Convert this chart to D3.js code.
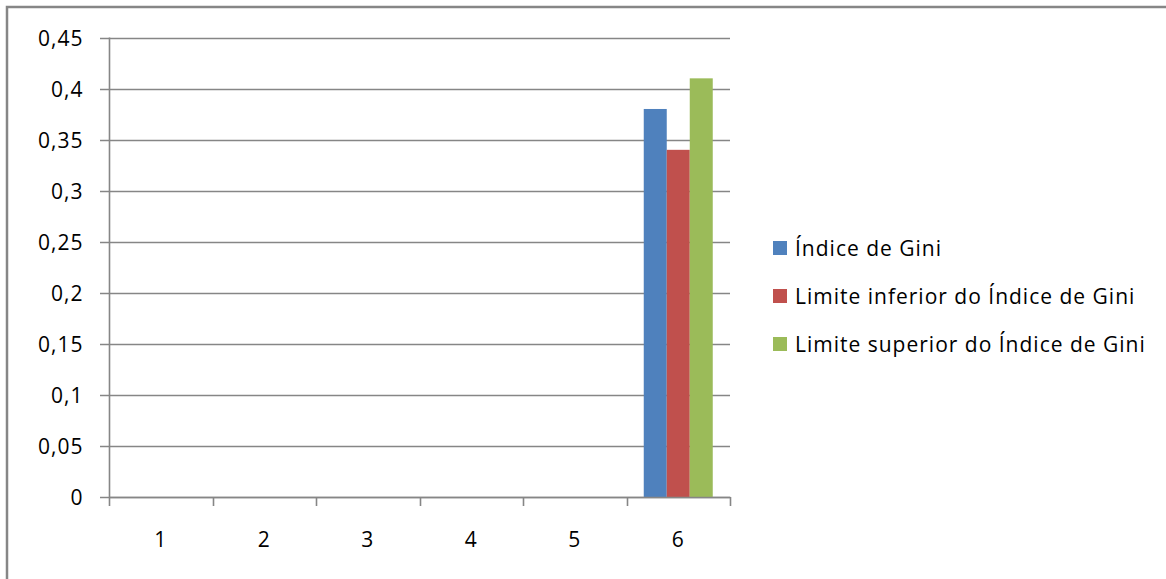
<!DOCTYPE html>
<html>
<head>
<meta charset="utf-8">
<script src="https://cdn.jsdelivr.net/npm/d3@7"></script>
<style>
  html, body { margin: 0; padding: 0; background: #fff; }
  svg { display: block; }
  text { font-family: "Open Sans", "DejaVu Sans", sans-serif; fill: #000; letter-spacing: 1px; }
</style>
</head>
<body>
<svg id="chart" width="1166" height="579"></svg>
<script>
// Category labels along the x axis
const categories = ["1", "2", "3", "4", "5", "6"];
// Series names (legend)
const seriesNames = [
  "Índice de Gini",
  "Limite inferior do Índice de Gini",
  "Limite superior do Índice de Gini"
];
// Values per category for each series (null = no value)
const giniIndex = [null, null, null, null, null, 0.38];
const giniLower = [null, null, null, null, null, 0.34];
const giniUpper = [null, null, null, null, null, 0.41];
// Y axis tick values and labels
const yTicks = [0, 0.05, 0.1, 0.15, 0.2, 0.25, 0.3, 0.35, 0.4, 0.45];
const yTickLabels = ["0", "0,05", "0,1", "0,15", "0,2", "0,25", "0,3", "0,35", "0,4", "0,45"];
const seriesColors = ["#4f81bd", "#c0504d", "#9bbb59"];

const seriesValues = [giniIndex, giniLower, giniUpper];

const svg = d3.select("#chart");
const gridColor = "#868686";
const fontSize = 21;

// Outer chart frame
svg.append("rect")
  .attr("x", 7).attr("y", 7)
  .attr("width", 1166).attr("height", 600)
  .attr("fill", "none")
  .attr("stroke", gridColor)
  .attr("stroke-width", 2.5);

const plot = { left: 109, right: 730, top: 37.5, bottom: 497 };

const y = d3.scaleLinear().domain([0, 0.45]).range([plot.bottom, plot.top]);
const x0 = d3.scaleBand().domain(categories).range([plot.left, plot.right]).paddingInner(0).paddingOuter(0);
// Excel style gap: 150% of bar width split on both sides of the cluster
const x1 = d3.scaleBand().domain(d3.range(seriesNames.length))
  .range([0, x0.bandwidth()]).paddingInner(0).paddingOuter(0.75);

// Horizontal gridlines
svg.append("g")
  .selectAll("line")
  .data(yTicks)
  .join("line")
  .attr("x1", plot.left - 9)
  .attr("x2", plot.right)
  .attr("y1", d => Math.round(y(d)) + 0.5)
  .attr("y2", d => Math.round(y(d)) + 0.5)
  .attr("stroke", gridColor)
  .attr("stroke-width", 1.6);

// Bars
const clusters = svg.append("g")
  .selectAll("g")
  .data(categories)
  .join("g")
  .attr("transform", d => `translate(${x0(d)},0)`);

clusters.selectAll("rect")
  .data((c, ci) => seriesValues.map((vals, si) => ({ si, v: vals[ci] })).filter(d => d.v != null))
  .join("rect")
  .attr("x", d => x1(d.si))
  .attr("width", x1.bandwidth())
  .attr("y", d => y(d.v))
  .attr("height", d => y(0) - y(d.v))
  .attr("fill", d => seriesColors[d.si]);

// Y axis
const yAxis = d3.axisLeft(y)
  .tickValues(yTicks)
  .tickFormat((d, i) => yTickLabels[i])
  .tickSize(0)
  .tickPadding(26);
const yg = svg.append("g")
  .attr("transform", `translate(${plot.left + 0.5},0)`)
  .call(yAxis);
yg.select(".domain").remove();
yg.selectAll("text")
  .attr("font-size", fontSize)
  .attr("font-family", "Open Sans, DejaVu Sans, sans-serif")
  .attr("fill", "#000")
  .attr("dy", "0.36em");

// Vertical axis line
svg.append("line")
  .attr("x1", plot.left + 0.5).attr("x2", plot.left + 0.5)
  .attr("y1", plot.top).attr("y2", plot.bottom + 9)
  .attr("stroke", gridColor).attr("stroke-width", 1.6);

// X axis with ticks at category boundaries
const xg = svg.append("g");
xg.append("line")
  .attr("x1", plot.left).attr("x2", plot.right + 0.5)
  .attr("y1", plot.bottom + 0.5).attr("y2", plot.bottom + 0.5)
  .attr("stroke", gridColor).attr("stroke-width", 1.6);
xg.selectAll("line.tick")
  .data(categories.map(c => x0(c) + x0.bandwidth()))
  .join("line")
  .attr("class", "tick")
  .attr("x1", d => Math.round(d) + 0.5).attr("x2", d => Math.round(d) + 0.5)
  .attr("y1", plot.bottom).attr("y2", plot.bottom + 9)
  .attr("stroke", gridColor).attr("stroke-width", 1.6);
xg.selectAll("text")
  .data(categories)
  .join("text")
  .attr("x", d => x0(d) + x0.bandwidth() / 2)
  .attr("y", 547)
  .attr("text-anchor", "middle")
  .attr("font-size", fontSize)
  .text(d => d);

// Legend
const legend = svg.append("g")
  .attr("transform", "translate(773,248)");
const items = legend.selectAll("g")
  .data(seriesNames)
  .join("g")
  .attr("transform", (d, i) => `translate(0,${i * 48})`);
items.append("rect")
  .attr("x", 0).attr("y", -7)
  .attr("width", 14).attr("height", 14)
  .attr("fill", (d, i) => seriesColors[i]);
items.append("text")
  .attr("x", 22)
  .attr("y", 0)
  .attr("dy", "0.36em")
  .attr("font-size", fontSize)
  .text(d => d);
</script>
</body>
</html>
